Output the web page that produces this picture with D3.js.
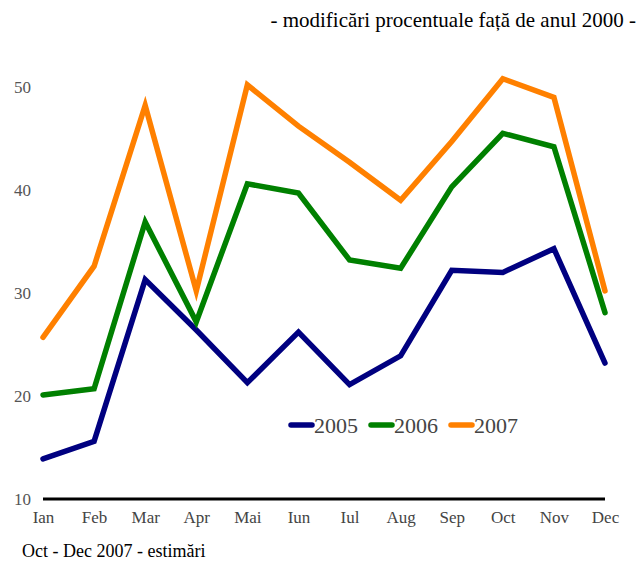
<!DOCTYPE html>
<html><head><meta charset="utf-8">
<script src="https://cdn.jsdelivr.net/npm/d3@7"></script>
<style>body{margin:0;background:#fff}svg{display:block}</style>
</head><body>
<script>
const months = ["Ian","Feb","Mar","Apr","Mai","Iun","Iul","Aug","Sep","Oct","Nov","Dec"];
const s2005 = [13.9,15.6,31.3,26.4,21.3,26.2,21.1,23.9,32.2,32.0,34.3,23.2];
const s2006 = [20.1,20.7,36.9,27.2,40.6,39.7,33.2,32.4,40.3,45.5,44.2,28.1];
const s2007 = [25.7,32.6,48.2,30.2,50.2,46.2,42.7,39.0,44.7,50.8,49.0,30.2];
const yTicks = [10,20,30,40,50];
const seriesNames = ["2005","2006","2007"];
const colors = ["#000080","#008000","#ff8000"];
const title = "- modificări procentuale față de anul 2000 -";
const note = "Oct - Dec 2007 - estimări";

const W=641,H=561;
const svg=d3.select("body").append("svg").attr("width",W).attr("height",H);
const x=d3.scalePoint().domain(months).range([43,605]);
const y=d3.scaleLinear().domain([10,50]).range([499,87]);
const font="'Liberation Serif', 'Times New Roman', serif";

svg.append("text").attr("x",636).attr("y",27).attr("text-anchor","end")
  .style("font-family",font).style("font-size","21px").attr("fill","#000").text(title);

const ya=svg.append("g").attr("transform","translate(31,0)")
  .call(d3.axisLeft(y).tickValues(yTicks).tickSize(0).tickPadding(0));
ya.attr("font-family",null).attr("font-size",null);
ya.select(".domain").remove();
ya.selectAll("text").style("font-family",font).style("font-size","17px").attr("fill","#555").attr("dy","0.32em");

const xa=svg.append("g").attr("transform","translate(0,499)")
  .call(d3.axisBottom(x).tickSize(0).tickPadding(12));
xa.attr("font-family",null).attr("font-size",null);
xa.select(".domain").remove();
xa.selectAll("text").style("font-family",font).style("font-size","17px").attr("fill","#444");
svg.append("line").attr("x1",x("Ian")).attr("x2",x("Dec")).attr("y1",499).attr("y2",499)
  .attr("stroke","#000").attr("stroke-width",3);

const line=d3.line().x((d,i)=>x(months[i])).y(d=>y(d));
[s2005,s2006,s2007].forEach((s,k)=>{
  svg.append("path").datum(s).attr("d",line).attr("fill","none")
    .attr("stroke",colors[k]).attr("stroke-width",5.5).attr("stroke-linejoin","miter").attr("stroke-linecap","round");
});

const lg=svg.append("g");
const lx=[291,371,451];
seriesNames.forEach((n,k)=>{
  lg.append("line").attr("x1",lx[k]).attr("x2",lx[k]+21).attr("y1",425).attr("y2",425)
    .attr("stroke",colors[k]).attr("stroke-width",5.5).attr("stroke-linecap","round");
  lg.append("text").attr("x",lx[k]+23).attr("y",433).style("font-family",font).style("font-size","22px")
    .attr("fill","#444").text(n);
});

svg.append("text").attr("x",22).attr("y",557).style("font-family",font).style("font-size","18px")
  .attr("fill","#000").text(note);
</script>
</body></html>
